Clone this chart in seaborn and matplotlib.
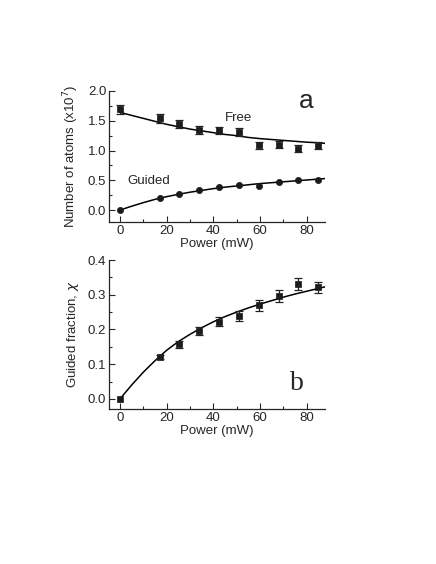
import numpy as np
import pandas as pd
import seaborn as sns
import matplotlib.pyplot as plt
from matplotlib.ticker import MultipleLocator

# measured points
power = [0, 17, 25.5, 34, 42.5, 51, 59.5, 68, 76.5, 85]
free_atoms = [1.69, 1.54, 1.44, 1.35, 1.34, 1.31, 1.09, 1.10, 1.03, 1.08]
free_err = [0.08, 0.07, 0.07, 0.07, 0.06, 0.07, 0.06, 0.06, 0.06, 0.06]
guided_atoms = [0.0, 0.21, 0.27, 0.33, 0.38, 0.42, 0.41, 0.47, 0.51, 0.51]
guided_err = [0.01, 0.015, 0.015, 0.015, 0.015, 0.015, 0.02, 0.02, 0.02, 0.02]
fraction = [0.0, 0.12, 0.158, 0.196, 0.222, 0.238, 0.27, 0.297, 0.331, 0.321]
fraction_err = [0.004, 0.006, 0.01, 0.012, 0.013, 0.014, 0.016, 0.018, 0.018, 0.017]

# fit curves
fit_power = [0, 5, 10, 15, 20, 25, 30, 35, 40, 45, 50, 55, 60, 65, 70, 75, 80, 85, 88]
free_fit = [1.64, 1.59, 1.54, 1.49, 1.44, 1.40, 1.36, 1.33, 1.30, 1.27, 1.25, 1.22,
            1.20, 1.185, 1.17, 1.155, 1.14, 1.13, 1.12]
guided_fit = [0.0, 0.065, 0.125, 0.18, 0.225, 0.265, 0.30, 0.33, 0.36, 0.385, 0.405,
              0.425, 0.445, 0.46, 0.475, 0.49, 0.505, 0.52, 0.53]
fraction_fit = [0.0, 0.04, 0.077, 0.11, 0.14, 0.165, 0.186, 0.205, 0.222, 0.237, 0.25,
                0.262, 0.273, 0.283, 0.293, 0.302, 0.31, 0.318, 0.323]

pts = pd.DataFrame({'power': power, 'free': free_atoms, 'guided': guided_atoms,
                    'fraction': fraction})
fit = pd.DataFrame({'power': fit_power, 'free': free_fit, 'guided': guided_fit,
                    'fraction': fraction_fit})

sns.set_style('ticks')
plt.rcParams['font.family'] = ['Liberation Sans', 'DejaVu Sans']
plt.rcParams['mathtext.fontset'] = 'dejavusans'

fig = plt.figure(figsize=(4.36, 5.64), dpi=100)
ax1 = fig.add_axes([0.25, 0.6064, 0.495, 0.2323])
ax2 = fig.add_axes([0.25, 0.2748, 0.495, 0.2642])

fs = 9.5
err_kw = dict(fmt='none', ecolor='#222222', elinewidth=0.9, capsize=3,
              capthick=0.9, zorder=6)

# panel a
sns.lineplot(data=fit, x='power', y='free', ax=ax1, color='black', lw=1.1)
sns.lineplot(data=fit, x='power', y='guided', ax=ax1, color='black', lw=1.1)
sns.scatterplot(data=pts, x='power', y='free', ax=ax1, marker='s', s=17,
                color='#1a1a1a', edgecolor='#1a1a1a', linewidth=0.5, zorder=5)
sns.scatterplot(data=pts, x='power', y='guided', ax=ax1, marker='o', s=20,
                color='#1a1a1a', edgecolor='#1a1a1a', linewidth=0.5, zorder=5)
ax1.errorbar(power, free_atoms, yerr=free_err, **err_kw)
ax1.set_xlim(-4.7, 87.8)
ax1.set_ylim(-0.2, 2.0)
ax1.yaxis.set_major_locator(MultipleLocator(0.5))
ax1.yaxis.set_minor_locator(MultipleLocator(0.25))
ax1.set_ylabel('Number of atoms (x10$^7$)', fontsize=fs, labelpad=5)
ax1.set_xlabel('Power (mW)', fontsize=fs, labelpad=1)
ax1.yaxis.set_major_formatter(plt.FormatStrFormatter('%.1f'))
ax1.text(50.6, 1.55, 'Free', fontsize=fs, ha='center', va='center')
ax1.text(12.3, 0.48, 'Guided', fontsize=fs, ha='center', va='center')
ax1.text(80, 1.84, 'a', fontsize=19, ha='center', va='center',
         family=['Liberation Sans'])

# panel b
sns.lineplot(data=fit, x='power', y='fraction', ax=ax2, color='black', lw=1.1)
sns.scatterplot(data=pts, x='power', y='fraction', ax=ax2, marker='s', s=17,
                color='#1a1a1a', edgecolor='#1a1a1a', linewidth=0.5, zorder=5)
ax2.errorbar(power[1:], fraction[1:], yerr=fraction_err[1:], **err_kw)
ax2.set_xlim(-4.7, 87.8)
ax2.set_ylim(-0.029, 0.4)
ax2.yaxis.set_major_locator(MultipleLocator(0.1))
ax2.yaxis.set_minor_locator(MultipleLocator(0.05))
ax2.yaxis.set_major_formatter(plt.FormatStrFormatter('%.1f'))
ax2.set_ylabel('Guided fraction, $\\chi$', fontsize=fs, labelpad=5)
ax2.set_xlabel('Power (mW)', fontsize=fs, labelpad=1)
ax2.text(75.7, 0.045, 'b', fontsize=20, ha='center', va='center',
         family=['Liberation Serif', 'DejaVu Serif'])

for ax in (ax1, ax2):
    sns.despine(ax=ax)
    ax.xaxis.set_major_locator(MultipleLocator(20))
    ax.xaxis.set_minor_locator(MultipleLocator(10))
    ax.tick_params(which='major', direction='in', length=4, width=0.8,
                   labelsize=fs, pad=2)
    ax.tick_params(which='minor', direction='in', length=2.5, width=0.8)
    for s in ('left', 'bottom'):
        ax.spines[s].set_linewidth(0.9)

fig.savefig('out.png', dpi=100)
